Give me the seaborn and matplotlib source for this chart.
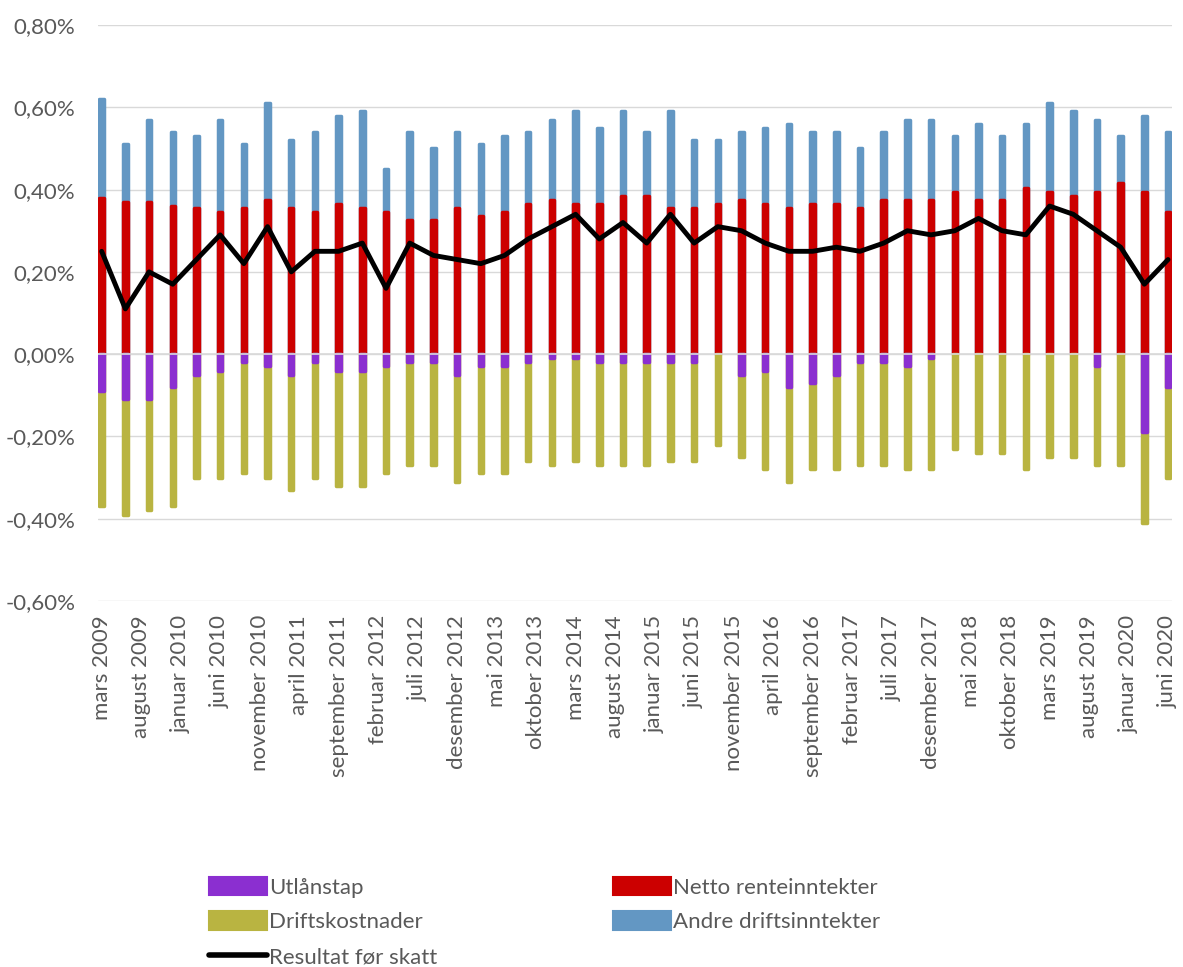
import numpy as np
import pandas as pd
import matplotlib
matplotlib.use('Agg')
import matplotlib.pyplot as plt
import seaborn as sns
from matplotlib.patches import Patch
from matplotlib.lines import Line2D
from matplotlib.ticker import FuncFormatter

# kvartalsvise tall, prosent av forvaltningskapital
datoer = pd.date_range('2009-03-31', '2020-06-30', freq='QE')

utlanstap = [-0.09,-0.11,-0.11,-0.08,-0.05,-0.04,-0.02,-0.03,-0.05,-0.02,
             -0.04,-0.04,-0.03,-0.02,-0.02,-0.05,-0.03,-0.03,-0.02,-0.01,
             -0.01,-0.02,-0.02,-0.02,-0.02,-0.02,0.00,-0.05,-0.04,-0.08,
             -0.07,-0.05,-0.02,-0.02,-0.03,-0.01,0.00,0.00,0.00,0.00,
             0.00,0.00,-0.03,0.00,-0.19,-0.08]
driftskostnader = [-0.28,-0.28,-0.27,-0.29,-0.25,-0.26,-0.27,-0.27,-0.28,-0.28,
                   -0.28,-0.28,-0.26,-0.25,-0.25,-0.26,-0.26,-0.26,-0.24,-0.26,
                   -0.25,-0.25,-0.25,-0.25,-0.24,-0.24,-0.22,-0.20,-0.24,-0.23,
                   -0.21,-0.23,-0.25,-0.25,-0.25,-0.27,-0.23,-0.24,-0.24,-0.28,
                   -0.25,-0.25,-0.24,-0.27,-0.22,-0.22]
netto_renter = [0.38,0.37,0.37,0.36,0.355,0.345,0.355,0.375,0.355,0.345,
                0.365,0.355,0.345,0.325,0.325,0.355,0.335,0.345,0.365,0.375,
                0.365,0.365,0.385,0.385,0.355,0.355,0.365,0.375,0.365,0.355,
                0.365,0.365,0.355,0.375,0.375,0.375,0.395,0.375,0.375,0.405,
                0.395,0.385,0.395,0.415,0.395,0.345]
andre_inntekter = [0.24,0.14,0.20,0.18,0.175,0.225,0.155,0.235,0.165,0.195,
                   0.215,0.235,0.105,0.215,0.175,0.185,0.175,0.185,0.175,0.195,
                   0.225,0.185,0.205,0.155,0.235,0.165,0.155,0.165,0.185,0.205,
                   0.175,0.175,0.145,0.165,0.195,0.195,0.135,0.185,0.155,0.155,
                   0.215,0.205,0.175,0.115,0.185,0.195]
resultat = [0.25,0.11,0.20,0.17,0.23,0.29,0.22,0.31,0.20,0.25,
            0.25,0.27,0.16,0.27,0.24,0.23,0.22,0.24,0.28,0.31,
            0.34,0.28,0.32,0.27,0.34,0.27,0.31,0.30,0.27,0.25,
            0.25,0.26,0.25,0.27,0.30,0.29,0.30,0.33,0.30,0.29,
            0.36,0.34,0.30,0.26,0.17,0.23]

tick_labels = ['mars 2009','august 2009','januar 2010','juni 2010','november 2010',
               'april 2011','september 2011','februar 2012','juli 2012','desember 2012',
               'mai 2013','oktober 2013','mars 2014','august 2014','januar 2015',
               'juni 2015','november 2015','april 2016','september 2016','februar 2017',
               'juli 2017','desember 2017','mai 2018','oktober 2018','mars 2019',
               'august 2019','januar 2020','juni 2020']

c_utlan = '#8B2FD0'
c_drift = '#B9B441'
c_netto = '#CC0000'
c_andre = '#6397C3'
grey = '#595959'

df = pd.DataFrame({'dato': datoer, 'utlanstap': utlanstap, 'drift': driftskostnader,
                   'netto': netto_renter, 'andre': andre_inntekter, 'resultat': resultat})
# maaneder siden mars 2009 (dato-akse som i Excel)
df['mnd'] = (df.dato.dt.year - 2009) * 12 + df.dato.dt.month - 3
df['pos_sum'] = df.netto + df.andre
df['neg_sum'] = df.utlanstap + df.drift

sns.set_style('white')
plt.rcParams['font.family'] = ['Lato', 'DejaVu Sans']

fig = plt.figure(figsize=(11.83, 9.67), dpi=100)
ax = fig.add_axes([0.0826, 0.3785, 0.9081, 0.5956])

bar_kw = dict(native_scale=True, width=0.19, errorbar=None, saturation=1,
              linewidth=2.5, joinstyle='round', ax=ax, zorder=2)

sns.barplot(data=df, x='mnd', y='pos_sum', color=c_andre, edgecolor=c_andre, **bar_kw)
sns.barplot(data=df, x='mnd', y='netto', color=c_netto, edgecolor=c_netto, **bar_kw)
sns.barplot(data=df, x='mnd', y='neg_sum', color=c_drift, edgecolor=c_drift, **bar_kw)
sns.barplot(data=df[df.utlanstap != 0], x='mnd', y='utlanstap', color=c_utlan,
            edgecolor=c_utlan, **bar_kw)

sns.lineplot(data=df, x='mnd', y='resultat', color='black', linewidth=3.5, ax=ax, zorder=4)

ax.axhline(0, color='#D9D9D9', linewidth=1.2, zorder=3)

yt = [-0.6, -0.4, -0.2, 0, 0.2, 0.4, 0.6, 0.8]
ax.set_yticks(yt)
ax.set_ylim(-0.6, 0.8)
ax.yaxis.set_major_formatter(FuncFormatter(lambda v, p: f'{v:.2f}%'.replace('.', ',')))
ax.grid(axis='y', color='#D9D9D9', linewidth=1.0, zorder=0)
ax.set_axisbelow(True)

ax.set_xticks(np.arange(0, 136, 5))
ax.set_xticklabels(tick_labels, rotation=90)
ax.set_xlim(-0.5, 135.5)
ax.set_xlabel('')
ax.set_ylabel('')
ax.tick_params(axis='y', length=0, pad=16, labelsize=16, labelcolor=grey)
ax.tick_params(axis='x', length=0, pad=10, labelsize=16, labelcolor=grey)
sns.despine(ax=ax, left=True, bottom=True)

handles = [Patch(facecolor=c_utlan, edgecolor=c_utlan, linewidth=1.5, joinstyle='round'),
           Patch(facecolor=c_drift, edgecolor=c_drift, linewidth=1.5, joinstyle='round'),
           Line2D([], [], color='black', linewidth=4),
           Patch(facecolor=c_netto, edgecolor=c_netto, linewidth=1.5, joinstyle='round'),
           Patch(facecolor=c_andre, edgecolor=c_andre, linewidth=1.5, joinstyle='round')]
labels = ['Utlånstap', 'Driftskostnader', 'Resultat før skatt',
          'Netto renteinntekter', 'Andre driftsinntekter']
leg = fig.legend(handles, labels, ncol=2, frameon=False, loc='center left',
                 bbox_to_anchor=(0.1675, 0.0466), fontsize=16, handlelength=2.6,
                 handleheight=0.9, handletextpad=0.1, labelspacing=0.62,
                 columnspacing=7.9, borderpad=0)
for t in leg.get_texts():
    t.set_color(grey)

fig.savefig('out.png', dpi=100)
